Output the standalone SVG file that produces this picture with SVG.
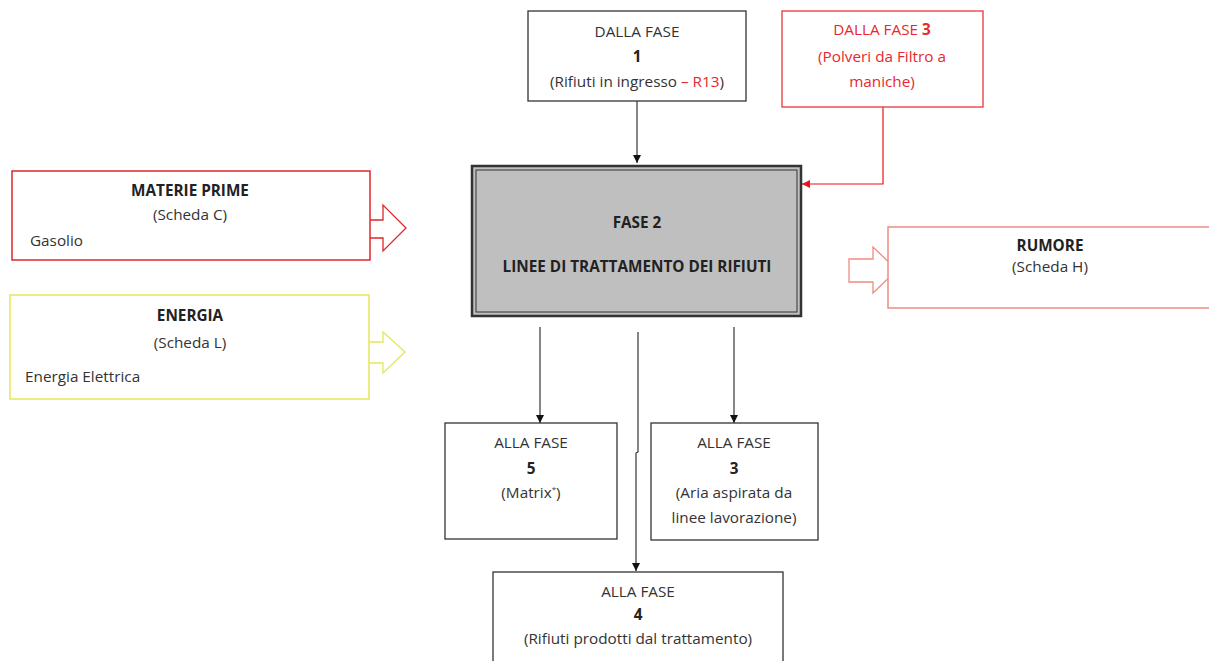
<svg xmlns="http://www.w3.org/2000/svg" width="1209" height="661" viewBox="0 0 1209 661">
<defs>
<style>
text{font-family:"Open Sans",Lato,"Liberation Sans",sans-serif;font-size:15.3px;fill:#333;}
.c{text-anchor:middle;}
.b{font-weight:bold;fill:#222;}
.r{fill:#e8282e;}
.box{fill:#fff;stroke:#333;stroke-width:1.3;}
.ln{stroke:#222;stroke-width:1.1;fill:none;}
</style>
<marker id="ah" viewBox="0 0 10 10" refX="10" refY="5" markerWidth="8" markerHeight="8" markerUnits="userSpaceOnUse" orient="auto"><path d="M0,0 L10,5 L0,10 z" fill="#111"/></marker>
<marker id="ahr" viewBox="0 0 10 10" refX="10" refY="5" markerWidth="8" markerHeight="8" markerUnits="userSpaceOnUse" orient="auto"><path d="M0,0 L10,5 L0,10 z" fill="#e8141c"/></marker>
</defs>
<rect width="1209" height="661" fill="#fff"/>

<g id="connectors">
<line class="ln" x1="637" y1="101" x2="637" y2="163" marker-end="url(#ah)"/>
<polyline points="883,107 883,184 802,184" fill="none" stroke="#e8141c" stroke-width="1.2" marker-end="url(#ahr)"/>
<line class="ln" x1="540" y1="327" x2="540" y2="423" marker-end="url(#ah)"/>
<line class="ln" x1="734" y1="327" x2="734" y2="423" marker-end="url(#ah)"/>
<polyline class="ln" points="638,332 638,452 636,453 636,571" marker-end="url(#ah)"/>
<path d="M361,220 H383 V205 L406,228 L383,251 V238 H361 Z" fill="#fff" stroke="#e0242a" stroke-width="1.3"/>
<path d="M361,342 H383 V332 L405,352 L383,373 V363 H361 Z" fill="#fff" stroke="#e6e65a" stroke-width="1.3"/>
<path d="M849,259 H873 V247 L897,270 L873,293 V282 H849 Z" fill="#fff" stroke="#ee8c80" stroke-width="1.3"/>
</g>

<g id="fase1">
<rect class="box" x="528" y="11" width="218" height="90"/>
<text class="c" x="637" y="37">DALLA FASE</text>
<text class="c b" x="637" y="62">1</text>
<text class="c" x="637" y="87">(Rifiuti in ingresso <tspan class="r">– R13</tspan>)</text>
</g>

<g id="fase3in">
<rect x="782" y="11" width="201" height="96" fill="#fff" stroke="#e8343a" stroke-width="1.3"/>
<text class="c r" x="882" y="35">DALLA FASE <tspan font-weight="bold">3</tspan></text>
<text class="c r" x="882" y="62">(Polveri da Filtro a</text>
<text class="c r" x="882" y="87">maniche)</text>
</g>

<g id="fase2">
<rect x="472" y="166" width="329" height="150" fill="#bfbfbf" stroke="#333" stroke-width="2.5"/>
<rect x="476" y="170" width="321" height="142" fill="none" stroke="#333" stroke-width="1"/>
<text class="c b" x="637" y="228">FASE 2</text>
<text class="c b" x="637" y="272">LINEE DI TRATTAMENTO DEI RIFIUTI</text>
</g>

<g id="materie">
<rect x="12" y="171" width="358" height="89" fill="#fff" stroke="#e0242a" stroke-width="1.5"/>
<text class="c b" x="190" y="196">MATERIE PRIME</text>
<text class="c" x="190" y="220">(Scheda C)</text>
<text x="30" y="246">Gasolio</text>
</g>

<g id="energia">
<rect x="10" y="295" width="359" height="104" fill="#fff" stroke="#e6e65a" stroke-width="1.5"/>
<text class="c b" x="190" y="321">ENERGIA</text>
<text class="c" x="190" y="348">(Scheda L)</text>
<text x="25" y="382">Energia Elettrica</text>
</g>

<g id="rumore">
<rect x="888" y="227" width="340" height="81" fill="#fff" stroke="#ee8c80" stroke-width="1.5"/>
<text class="c b" x="1050" y="251">RUMORE</text>
<text class="c" x="1050" y="272">(Scheda H)</text>
</g>

<g id="fase5">
<rect class="box" x="445" y="423" width="172" height="116"/>
<text class="c" x="531" y="448">ALLA FASE</text>
<text class="c b" x="531" y="474">5</text>
<text class="c" x="531" y="498">(Matrix<tspan font-size="8" dy="-6">*</tspan><tspan dy="6">)</tspan></text>
</g>

<g id="fase3out">
<rect class="box" x="651" y="423" width="167" height="117"/>
<text class="c" x="734" y="448">ALLA FASE</text>
<text class="c b" x="734" y="474">3</text>
<text class="c" x="734" y="498">(Aria aspirata da</text>
<text class="c" x="734" y="523">linee lavorazione)</text>
</g>

<g id="fase4">
<rect class="box" x="493" y="572" width="290" height="110"/>
<text class="c" x="638" y="597">ALLA FASE</text>
<text class="c b" x="638" y="620">4</text>
<text class="c" x="638" y="644">(Rifiuti prodotti dal trattamento)</text>
</g>
</svg>
